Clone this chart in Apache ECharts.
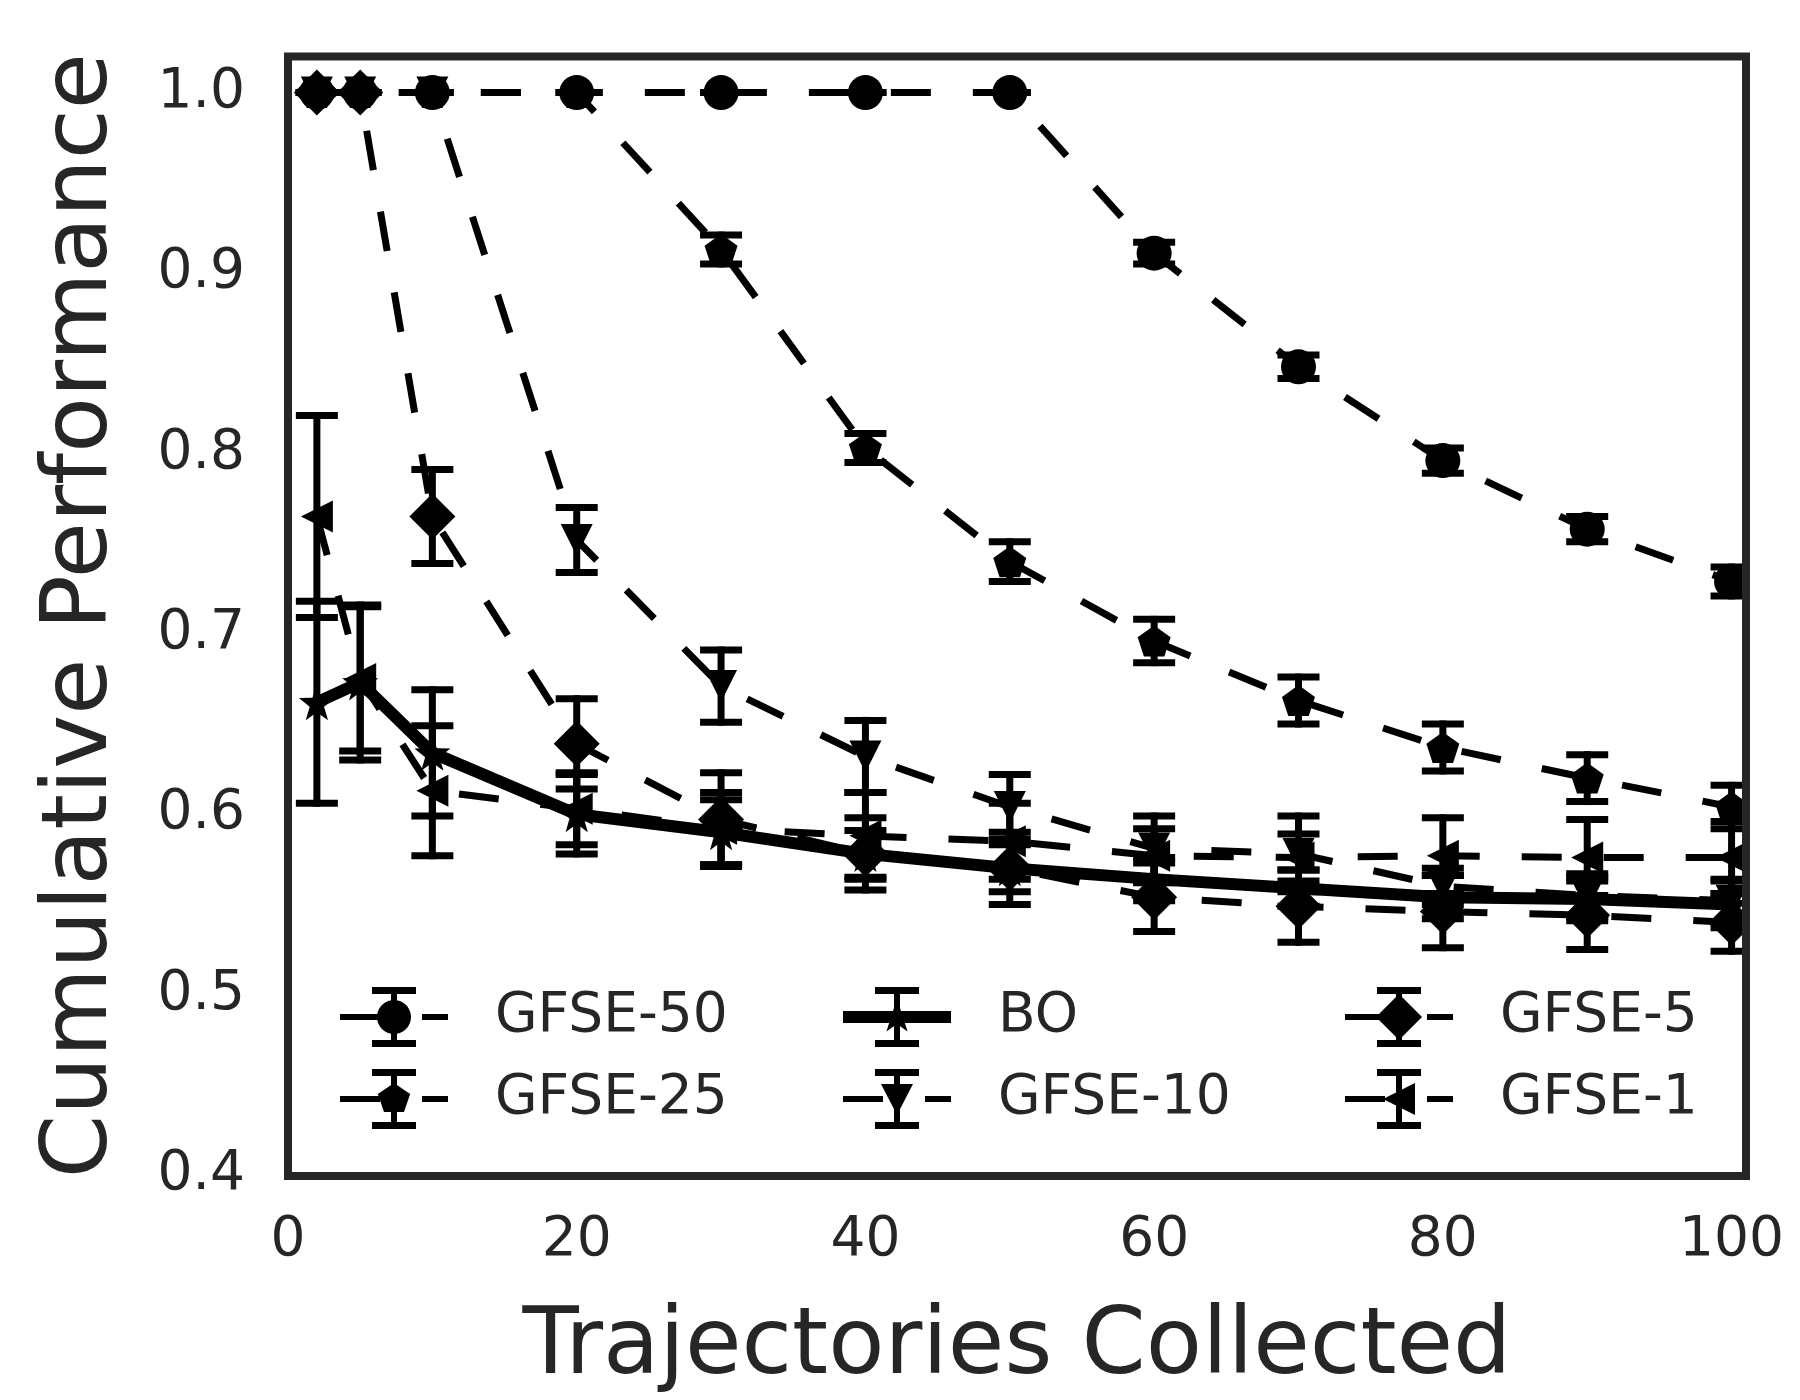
<!DOCTYPE html>
<html>
<head>
<meta charset="utf-8">
<script src="https://cdn.jsdelivr.net/npm/echarts@6/dist/echarts.min.js"></script>
<style>
html,body{margin:0;padding:0;background:#fff;}
#chart{width:1800px;height:1400px;}
</style>
</head>
<body>
<div id="chart"></div>
<script>
// ---- data ----
const xValues = [2, 5, 10, 20, 30, 40, 50, 60, 70, 80, 90, 100];
const xTicks = [0, 20, 40, 60, 80, 100];
const yTicks = [0.4, 0.5, 0.6, 0.7, 0.8, 0.9, 1.0];

const gfse50 = [1, 1, 1, 1, 1, 1, 1, 0.911, 0.848, 0.796, 0.758, 0.729];
const gfse50Err = [0, 0, 0, 0, 0, 0, 0, 0.006, 0.0065, 0.007, 0.007, 0.008];

const gfse25 = [1, 1, 1, 1, 0.913, 0.803, 0.740, 0.696, 0.663, 0.637, 0.620, 0.604];
const gfse25Err = [0, 0, 0, 0, 0.008, 0.008, 0.011, 0.012, 0.013, 0.013, 0.013, 0.012];

const bo = [0.662, 0.673, 0.634, 0.600, 0.590, 0.578, 0.570, 0.564, 0.559, 0.554, 0.553, 0.550];
const boErr = [0.056, 0.043, 0.035, 0.022, 0.018, 0.013, 0.013, 0.012, 0.010, 0.012, 0.012, 0.013];

const gfse10 = [1, 1, 1, 0.752, 0.671, 0.632, 0.604, 0.581, 0.578, 0.560, 0.555, 0.552];
const gfse10Err = [0, 0, 0, 0.018, 0.020, 0.020, 0.018, 0.018, 0.021, 0.010, 0.012, 0.012];

const gfse5 = [1, 1, 0.765, 0.639, 0.597, 0.578, 0.570, 0.554, 0.549, 0.546, 0.544, 0.540];
const gfse5Err = [0, 0, 0.026, 0.025, 0.026, 0.020, 0.020, 0.019, 0.020, 0.020, 0.019, 0.016];

const gfse1 = [0.765, 0.675, 0.613, 0.603, 0.592, 0.588, 0.585, 0.577, 0.576, 0.577, 0.576, 0.576];
const gfse1Err = [0.056, 0.040, 0.036, 0.020, 0.020, 0.024, 0.021, 0.015, 0.013, 0.021, 0.021, 0.020];

// ---- shapes ----
function polyPath(pts) {
  return 'M' + pts.map(p => p[0].toFixed(2) + ',' + p[1].toFixed(2)).join(' L') + ' Z';
}
function regPoly(cx, cy, rx, ry, n, start) {
  const pts = [];
  for (let i = 0; i < n; i++) {
    const a = (start + i * 360 / n) * Math.PI / 180;
    pts.push([cx + rx * Math.cos(a), cy + ry * Math.sin(a)]);
  }
  return pts;
}
function starPts(cx, cy, R, r) {
  const pts = [];
  for (let i = 0; i < 10; i++) {
    const a = (-90 + i * 36) * Math.PI / 180;
    const rr = i % 2 === 0 ? R : r;
    pts.push([cx + rr * Math.cos(a), cy + rr * Math.sin(a)]);
  }
  return pts;
}
function rect(x1, y1, x2, y2) {
  return polyPath([[x1, y1], [x2, y1], [x2, y2], [x1, y2]]);
}

const pentagonSym = 'path://' + polyPath(regPoly(0, 0, 10, 10, 5, -90));
const triDownSym = 'path://M0,0 L20,0 L10,20 Z';
const triLeftSym = 'path://M0,10 L20,0 L20,20 Z';
const starSym = 'path://' + polyPath(starPts(0, 0, 10, 4));

// legend icons in a 108 x 60 box
const W = 108, H = 60, CX = 54, CY = 30;
const barPart = rect(51, 0, 57, H) + ' ' + rect(32, 0, 76, 7) + ' ' + rect(32, 53, 76, H);
const dashPart = rect(0, 27, 40, 33) + ' ' + rect(82, 27, W, 33);
const solidPart = rect(0, 24, W, 36);
const legendMarkers = {
  circle: polyPath(regPoly(CX, CY, 17, 17, 36, 0)),
  pentagon: polyPath(regPoly(CX, CY, 17, 16, 5, -90)),
  star: polyPath(starPts(CX, CY, 18, 7)),
  triDown: polyPath([[38, 15], [70, 15], [54, 46]]),
  diamond: polyPath([[CX, 7], [77, CY], [CX, 53], [31, CY]]),
  triLeft: polyPath([[38, CY], [70, 14], [70, 46]])
};
function legendIcon(marker, solid) {
  return 'path://' + (solid ? solidPart : dashPart) + ' ' + barPart + ' ' + legendMarkers[marker];
}

const seriesDefs = [
  {name: 'GFSE-50', vals: gfse50, errs: gfse50Err, symbol: 'circle', size: 35, marker: 'circle', solid: false, lx: 340, row: 0},
  {name: 'GFSE-25', vals: gfse25, errs: gfse25Err, symbol: pentagonSym, size: [33, 31], marker: 'pentagon', solid: false, lx: 340, row: 1},
  {name: 'BO', vals: bo, errs: boErr, symbol: starSym, size: 36, marker: 'star', solid: true, lx: 843, row: 0},
  {name: 'GFSE-10', vals: gfse10, errs: gfse10Err, symbol: triDownSym, size: 32, marker: 'triDown', solid: false, lx: 843, row: 1},
  {name: 'GFSE-5', vals: gfse5, errs: gfse5Err, symbol: 'diamond', size: 46, marker: 'diamond', solid: false, lx: 1345, row: 0},
  {name: 'GFSE-1', vals: gfse1, errs: gfse1Err, symbol: triLeftSym, size: 32, marker: 'triLeft', solid: false, lx: 1345, row: 1}
];

const FONT = 'DejaVu Sans';
const TXT = '#262626';

function errRender(params, api) {
  const x = api.value(0), y = api.value(1), e = api.value(2);
  const t = api.coord([x, y + e]);
  const b = api.coord([x, y - e]);
  const half = 21;
  const st = {stroke: '#000', lineWidth: 7, fill: null};
  return {
    type: 'group',
    children: [
      {type: 'line', shape: {x1: t[0], y1: t[1] - 3.5, x2: b[0], y2: b[1] + 3.5}, style: st},
      {type: 'line', shape: {x1: t[0] - half, y1: t[1], x2: t[0] + half, y2: t[1]}, style: st},
      {type: 'line', shape: {x1: b[0] - half, y1: b[1], x2: b[0] + half, y2: b[1]}, style: st}
    ]
  };
}

const series = [];
seriesDefs.forEach(d => {
  series.push({
    type: 'line',
    name: d.name,
    data: xValues.map((x, i) => [x, d.vals[i]]),
    symbol: d.symbol,
    symbolSize: d.size,
    showAllSymbol: true,
    clip: true,
    itemStyle: {color: '#000', borderWidth: 0},
    lineStyle: d.solid
      ? {color: '#000', width: 12, type: 'solid', cap: 'butt', join: 'round'}
      : {color: '#000', width: 7, type: [40, 42], cap: 'butt', join: 'round'},
    emphasis: {disabled: true},
    silent: true
  });
  series.push({
    type: 'custom',
    name: d.name,
    data: xValues.map((x, i) => [x, d.vals[i], d.errs[i]]),
    encode: {x: 0, y: 1},
    renderItem: errRender,
    silent: true
  });
});

const legends = seriesDefs.map(d => ({
  data: [{name: d.name, icon: legendIcon(d.marker, d.solid)}],
  left: d.lx,
  top: d.row === 0 ? 987 : 1069,
  orient: 'horizontal',
  padding: 0,
  itemWidth: W,
  itemHeight: H,
  selectedMode: false,
  itemStyle: {color: '#000', borderWidth: 0},
  textStyle: {fontFamily: FONT, fontSize: 55, color: TXT, padding: [0, 0, 0, 42], lineHeight: 60}
}));

const chart = echarts.init(document.getElementById('chart'), null, {renderer: 'canvas'});
chart.setOption({
  animation: false,
  backgroundColor: '#fff',
  grid: {left: 288, right: 54, top: 56.5, bottom: 224, show: false},
  xAxis: {
    type: 'value', min: 0, max: 101, interval: 20,
    axisLine: {show: false}, axisTick: {show: false}, splitLine: {show: false},
    axisLabel: {fontFamily: FONT, fontSize: 55, color: TXT, margin: 38,
      showMaxLabel: false,
      formatter: v => xTicks.indexOf(v) >= 0 ? String(v) : ''},
    name: 'Trajectories Collected', nameLocation: 'middle', nameGap: 128,
    nameTextStyle: {fontFamily: FONT, fontSize: 92, color: TXT}
  },
  yAxis: {
    type: 'value', min: yTicks[0], max: 1.02, interval: 0.1,
    axisLine: {show: false}, axisTick: {show: false}, splitLine: {show: false},
    axisLabel: {fontFamily: FONT, fontSize: 55, color: TXT, margin: 43,
      formatter: v => yTicks.some(t => Math.abs(t - v) < 1e-6) ? v.toFixed(1) : ''},
    name: 'Cumulative Performance', nameLocation: 'middle', nameGap: 160, nameRotate: 90,
    nameTextStyle: {fontFamily: FONT, fontSize: 91, color: TXT}
  },
  legend: legends,
  graphic: [
    {type: 'rect', z: 50, shape: {x: 1746, y: 0, width: 60, height: 1176}, style: {fill: '#fff'}, silent: true},
    {type: 'rect', z: 60, shape: {x: 288, y: 56.5, width: 1458, height: 1119.5}, style: {fill: null, stroke: TXT, lineWidth: 8}, silent: true}
  ],
  series: series
});
</script>
</body>
</html>
